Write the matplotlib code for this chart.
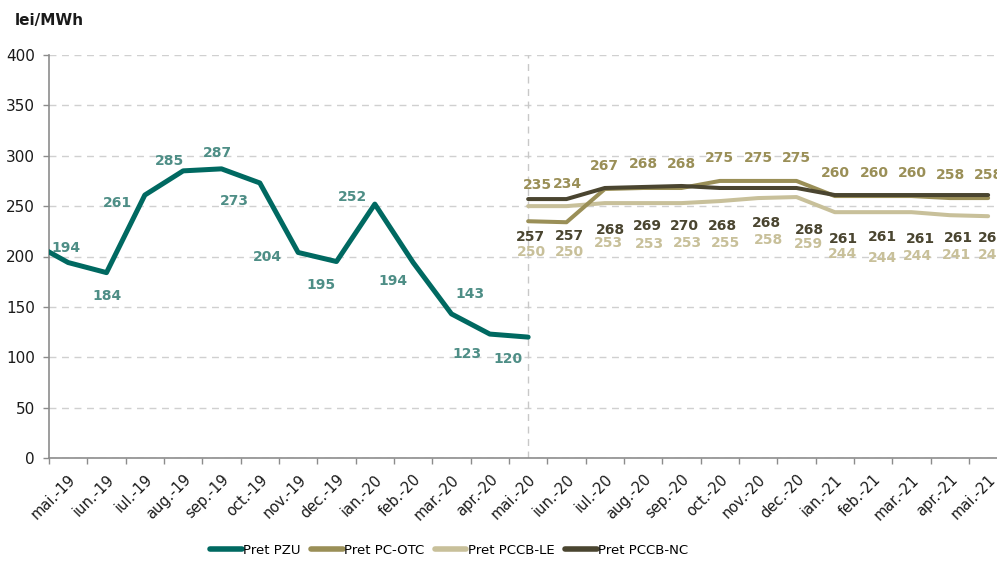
import matplotlib
matplotlib.use("Agg")
import matplotlib.pyplot as plt
import numpy as np

# ---------------- data ----------------
months = ["apr.-19", "mai.-19", "iun.-19", "iul.-19", "aug.-19", "sep.-19", "oct.-19",
          "nov.-19", "dec.-19", "ian.-20", "feb.-20", "mar.-20", "apr.-20", "mai.-20",
          "iun.-20", "iul.-20", "aug.-20", "sep.-20", "oct.-20", "nov.-20", "dec.-20",
          "ian.-21", "feb.-21", "mar.-21", "apr.-21", "mai.-21"]

# PZU: apr.-19 .. mai.-20 (apr.-19 is outside the visible range)
pzu = [215, 194, 184, 261, 285, 287, 273, 204, 195, 252, 194, 143, 123, 120]
# mai.-20 .. mai.-21
pc_otc = [235, 234, 267, 268, 268, 275, 275, 275, 260, 260, 260, 258, 258]
pccb_le = [250, 250, 253, 253, 253, 255, 258, 259, 244, 244, 244, 241, 240]
pccb_nc = [257, 257, 268, 269, 270, 268, 268, 268, 261, 261, 261, 261, 261]

series_names = ["Pret PZU", "Pret PC-OTC", "Pret PCCB-LE", "Pret PCCB-NC"]

# ---------------- style ----------------
c_pzu, c_pzu_lbl = "#006961", "#4E8E86"
c_otc = "#9A8F57"
c_le = "#C8C09A"
c_nc = "#4A4530"

# label offsets in pixels (dx right, dy down)
off_pzu = [(-2, -15), (1, 23), (-27, 8), (-14, -10), (-4, -16), (-25, 18), (-31, 5),
           (-15, 23), (-22, -7), (-20, 18), (19, -20), (-23, 20), (-20, 22)]
off_otc = [(9, -36), (1, -38), (0, -23), (0, -24), (0, -24), (0, -23), (0, -23),
           (0, -23), (1, -23), (1, -23), (1, -23), (1, -23), (0, -23)]
off_nc = [(2, 38), (3, 37), (6, 42), (4, 39), (3, 40), (3, 38), (8, 35),
          (13, 42), (9, 44), (9, 42), (9, 44), (9, 43), (4, 43)]
off_le = [(3, 46), (3, 46), (4, 40), (6, 41), (6, 40), (6, 42), (10, 42),
          (12, 47), (8, 42), (9, 46), (6, 44), (7, 40), (4, 39)]

W, H = 997, 562
fig = plt.figure(figsize=(W / 100, H / 100), dpi=100)
ax = fig.add_axes([49 / W, 1 - 458 / H, (1007.3 - 49) / W, (458 - 55) / H])

x_all = np.arange(len(months))
x_pzu = x_all[:len(pzu)]
start = months.index("mai.-20")
x_new = x_all[start:start + len(pc_otc)]

lw_pzu = 3.6
lw = 2.9
kw = dict(solid_capstyle="round", solid_joinstyle="round")
ax.plot(x_pzu, pzu, color=c_pzu, lw=lw_pzu, zorder=5, label=series_names[0], **kw)
ax.plot(x_new, pccb_le, color=c_le, lw=lw, zorder=3, label=series_names[2], **kw)
ax.plot(x_new, pc_otc, color=c_otc, lw=lw, zorder=4, label=series_names[1], **kw)
ax.plot(x_new, pccb_nc, color=c_nc, lw=lw, zorder=5, label=series_names[3], **kw)

lblfont = dict(fontsize=10, fontweight="bold", ha="center", va="center", zorder=6)


def label_series(xs, vals, offs, color):
    for xv, v, (dx, dy) in zip(xs, vals, offs):
        ax.annotate(f"{v}", (xv, v), xytext=(dx, -dy), textcoords="offset pixels",
                    color=color, annotation_clip=False, **lblfont)


label_series(x_pzu[1:], pzu[1:], off_pzu, c_pzu_lbl)
label_series(x_new, pc_otc, off_otc, c_otc)
label_series(x_new, pccb_nc, off_nc, c_nc)
label_series(x_new, pccb_le, off_le, c_le)

# axes
ax.set_xlim(0.5, len(months) - 0.5)
ax.set_ylim(0, 400)
ax.set_yticks(np.arange(0, 401, 50))
ax.yaxis.grid(True, color="#D0D0D0", linestyle=(0, (5, 4)), lw=1)
ax.set_axisbelow(True)
ax.axvline(x_all[start], color="#C8C8C8", linestyle=(0, (5, 4)), lw=1, zorder=1)

ax.set_xticks(x_all[1:])
ax.set_xticklabels(months[1:], rotation=45, ha="right", rotation_mode="anchor", fontsize=10.5)
ax.set_xticks(np.arange(0.5, len(months), 1), minor=True)
ax.tick_params(axis="x", which="major", length=0, pad=10)
ax.tick_params(axis="x", which="minor", length=4, color="#8C8C8C", width=1, direction="out")
ax.tick_params(axis="y", length=4, color="#8C8C8C", width=1, labelsize=11, pad=6)
for lbl in ax.get_yticklabels() + ax.get_xticklabels():
    lbl.set_color("#1A1A1A")

for s in ["top", "right"]:
    ax.spines[s].set_visible(False)
for s in ["left", "bottom"]:
    ax.spines[s].set_color("#8C8C8C")
    ax.spines[s].set_linewidth(1.2)

fig.text(15 / W, 1 - 20 / H, "lei/MWh", fontsize=11, fontweight="bold", ha="left", va="center",
         color="#1A1A1A")

handles, labels = ax.get_legend_handles_labels()
order = [labels.index(n) for n in series_names]
leg = fig.legend([handles[i] for i in order], [labels[i] for i in order], ncol=4,
                 loc="center", bbox_to_anchor=(449 / W, 1 - 550 / H), frameon=False,
                 handlelength=2.4, handletextpad=0.1, columnspacing=0.8,
                 prop={"size": 9.5})
for lh in leg.get_lines():
    lh.set_linewidth(4)
    lh.set_solid_capstyle("round")

fig.savefig("out.png", dpi=100)
